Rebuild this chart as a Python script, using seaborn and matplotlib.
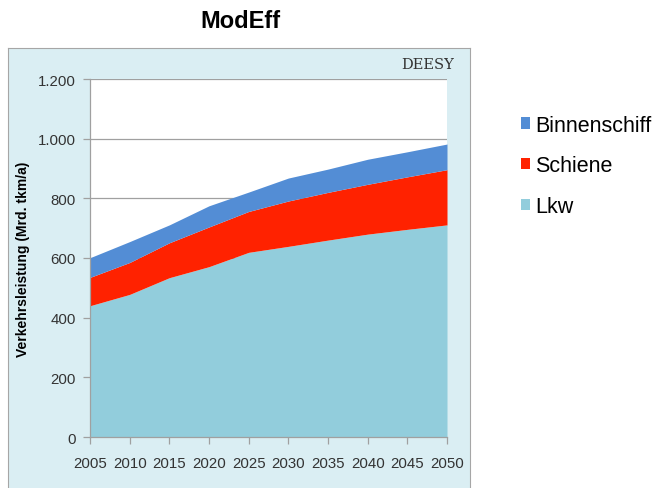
import matplotlib
matplotlib.use("Agg")
import matplotlib.pyplot as plt
import seaborn as sns
import pandas as pd
from matplotlib.patches import Patch
from matplotlib.ticker import FuncFormatter

years = [2005, 2010, 2015, 2020, 2025, 2030, 2035, 2040, 2045, 2050]
lkw = [440, 478, 534, 571, 619, 639, 660, 680, 696, 711]
schiene = [95, 107, 117, 133, 137, 152, 160, 167, 176, 185]
binnenschiff = [66, 70, 60, 71, 65, 77, 78, 84, 84, 86]
series_names = ["Lkw", "Schiene", "Binnenschiff"]
colors = {"Lkw": "#92CDDC", "Schiene": "#FF2200", "Binnenschiff": "#538DD5"}
yticks = [0, 200, 400, 600, 800, 1000, 1200]

df = pd.DataFrame({"Jahr": years, "Lkw": lkw, "Schiene": schiene, "Binnenschiff": binnenschiff})

sns.set_theme(style="white")
plt.rcParams["font.family"] = ["Liberation Sans", "DejaVu Sans"]

fig = plt.figure(figsize=(6.62, 4.89), dpi=100)
fig.patch.set_facecolor("white")

W, H = 662, 489
# light blue chart panel as a background axes
bg = fig.add_axes([8 / W, -0.01, (470 - 8) / W, 1 - 49 / H + 0.01], zorder=-5)
bg.set_facecolor("#DAEEF3")
bg.set_xticks([])
bg.set_yticks([])
for s in bg.spines.values():
    s.set_color("#A6A6A6")
    s.set_linewidth(0.8)

ax = fig.add_axes([90 / W, 1 - 438 / H, (447 - 90) / W, (438 - 80) / H], zorder=1)
ax.set_facecolor("white")
ax.stackplot(df["Jahr"], [df[s] for s in series_names],
             colors=[colors[s] for s in series_names], linewidth=0, zorder=2)

ax.set_xlim(2005, 2050)
ax.set_ylim(0, 1200)
ax.set_xticks(years)
ax.set_xticklabels([str(y) for y in years])
ax.set_yticks(yticks)
ax.yaxis.set_major_formatter(FuncFormatter(lambda v, p: f"{int(v):,}".replace(",", ".")))
ax.grid(axis="y", color="#A0A0A0", linewidth=0.9, zorder=1)
ax.set_axisbelow(True)
for s in ["top", "right"]:
    ax.spines[s].set_visible(False)
for s in ["left", "bottom"]:
    ax.spines[s].set_color("#A0A0A0")
    ax.spines[s].set_linewidth(0.9)
ax.tick_params(axis="both", which="both", direction="out", length=5, width=0.9, color="#A0A0A0",
               labelsize=10.8, labelcolor="#333333", left=True, bottom=True)
ax.tick_params(axis="x", pad=9)
ax.tick_params(axis="y", pad=5)
ax.set_ylabel("Verkehrsleistung (Mrd. tkm/a)", fontsize=10, fontweight="bold", color="black", labelpad=6)
ax.set_xlabel("")

fig.text(240 / W, 1 - 22 / H, "ModEff", ha="center", va="center", fontsize=17, fontweight="bold",
         color="black")
fig.text(454 / W, 1 - 65 / H, "DEESY", ha="right", va="center", fontsize=10.5,
         family=["DejaVu Serif"], color="#333333")

handles = [Patch(facecolor=colors[s], edgecolor="none") for s in ["Binnenschiff", "Schiene", "Lkw"]]
leg = fig.legend(handles, ["Binnenschiff", "Schiene", "Lkw"], loc="upper left",
                 bbox_to_anchor=(512 / W, 1 - 107 / H), frameon=False, fontsize=15.5,
                 handlelength=0.42, handleheight=0.42, handletextpad=0.25, labelspacing=0.92,
                 borderaxespad=0)
for t in leg.get_texts():
    t.set_color("black")

fig.savefig("out.png", dpi=100)
